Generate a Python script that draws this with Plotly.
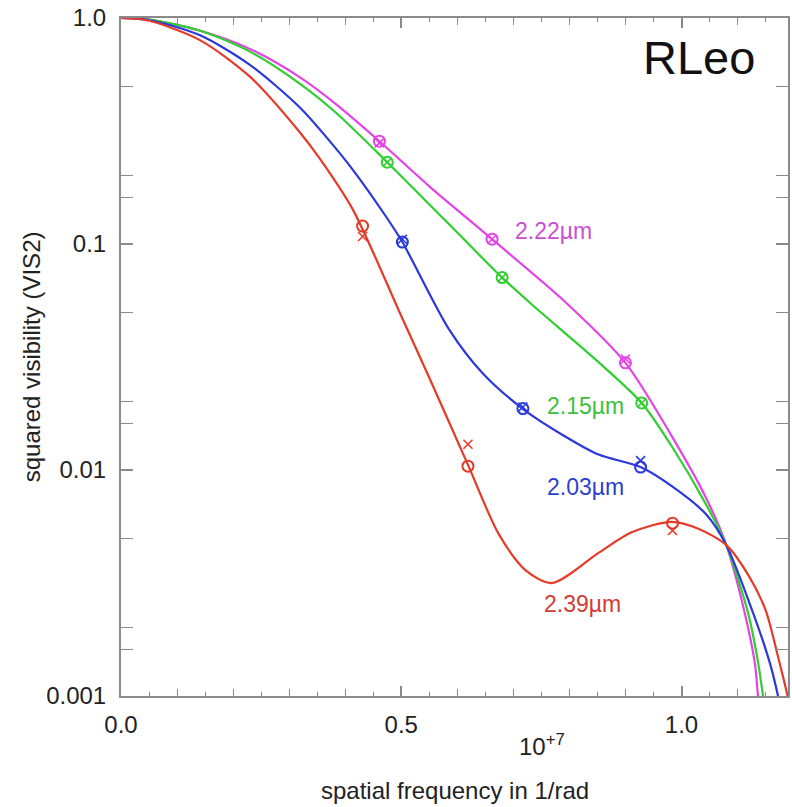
import plotly.graph_objects as go
import numpy as np

# ---------------- data ----------------
# model curves: spatial frequency (x 1e7 1/rad) vs squared visibility
x_222 = [0, 0.05, 0.14, 0.23, 0.32, 0.384, 0.461, 0.55, 0.662, 0.794, 0.900, 0.982, 1.043, 1.08, 1.113, 1.131, 1.137, 1.15]
v_222 = [1.0, 0.985, 0.88, 0.73, 0.545, 0.415, 0.285, 0.18, 0.105, 0.055, 0.0298, 0.0142, 0.0076, 0.00465, 0.00232, 0.00139, 0.00098, 0.0006]

x_215 = [0, 0.05, 0.14, 0.23, 0.32, 0.384, 0.475, 0.58, 0.68, 0.733, 0.852, 0.929, 0.982, 1.043, 1.08, 1.119, 1.137, 1.146, 1.16]
v_215 = [1.0, 0.983, 0.88, 0.71, 0.51, 0.38, 0.23, 0.126, 0.071, 0.054, 0.030, 0.0198, 0.0128, 0.0071, 0.00465, 0.00232, 0.00139, 0.00098, 0.0006]

x_203 = [0, 0.05, 0.14, 0.23, 0.32, 0.372, 0.413, 0.473, 0.502, 0.585, 0.644, 0.715, 0.794, 0.852, 0.927, 0.982, 1.043, 1.08, 1.128, 1.158, 1.173, 1.19]
v_203 = [1.0, 0.978, 0.84, 0.62, 0.40, 0.286, 0.214, 0.132, 0.102, 0.042, 0.027, 0.0188, 0.0140, 0.0117, 0.0103, 0.0085, 0.0064, 0.00465, 0.00232, 0.00139, 0.00098, 0.0006]

x_239 = [0, 0.05, 0.14, 0.23, 0.32, 0.354, 0.413, 0.5, 0.55, 0.62, 0.674, 0.722, 0.769, 0.852, 0.911, 0.982, 1.03, 1.08, 1.12, 1.15, 1.172, 1.19, 1.2]
v_239 = [1.0, 0.972, 0.80, 0.55, 0.31, 0.24, 0.143, 0.048, 0.0256, 0.0104, 0.0052, 0.0036, 0.00316, 0.0043, 0.0053, 0.0059, 0.0055, 0.00465, 0.0034, 0.0024, 0.0015, 0.00098, 0.0007]

# measured data points (circles) and second set (crosses)
px_222 = [0.461, 0.662, 0.900]; pc_222 = [0.285, 0.105, 0.0298]; px2_222 = [0.28, 0.105, 0.031]
px_215 = [0.475, 0.680, 0.929]; pc_215 = [0.23, 0.071, 0.0198]; px2_215 = [0.23, 0.071, 0.0198]
px_203 = [0.502, 0.717, 0.927]; pc_203 = [0.102, 0.0187, 0.0103]; px2_203 = [0.105, 0.019, 0.011]
px_239 = [0.431, 0.619, 0.984]; pc_239 = [0.12, 0.0104, 0.00582]; px2_239 = [0.108, 0.013, 0.0054]

labels = ["2.22µm", "2.15µm", "2.03µm", "2.39µm"]
label_x = [0.772, 0.829, 0.829, 0.824]
label_y = [0.1136, 0.0192, 0.0084, 0.00255]

x_ticks = [0.0, 0.5, 1.0]
x_ticktext = ["0.0", "0.5", "1.0"]
x_mid_ticks = [0.1, 0.2, 0.3, 0.4, 0.6, 0.7, 0.8, 0.9, 1.1]
y_ticks = [1.0, 0.1, 0.01, 0.001]
y_ticktext = ["1.0", "0.1", "0.01", "0.001"]
y_minor = [0.5, 0.2, 0.16, 0.05, 0.02, 0.016, 0.005, 0.002, 0.0016]

# ---------------- styling ----------------
colors = ["#e444e4", "#2fcf2f", "#2a38dc", "#e63a28"]
label_colors = ["#c850d0", "#3cbf3c", "#2e3fc8", "#d23c34"]
FONT = "Liberation Sans, Arial, Helvetica, sans-serif"
axis_col = "#8a8a8a"

fig = go.Figure()
series = [
    (x_222, v_222, px_222, pc_222, px2_222),
    (x_215, v_215, px_215, pc_215, px2_215),
    (x_203, v_203, px_203, pc_203, px2_203),
    (x_239, v_239, px_239, pc_239, px2_239),
]
for (xs, vs, pxs, pcs, pcs2), c in zip(series, colors):
    fig.add_trace(go.Scatter(x=xs, y=vs, mode="lines",
                             line=dict(color=c, width=2.2, shape="spline", smoothing=0.8),
                             showlegend=False, hoverinfo="skip"))
    fig.add_trace(go.Scatter(x=pxs, y=pcs, mode="markers",
                             marker=dict(symbol="circle-open", size=11, color=c,
                                         line=dict(color=c, width=2)),
                             showlegend=False, cliponaxis=False))
    fig.add_trace(go.Scatter(x=pxs, y=pcs2, mode="markers",
                             marker=dict(symbol="x-thin-open", size=9, color=c,
                                         line=dict(color=c, width=1.6)),
                             showlegend=False, cliponaxis=False))

# empty trace on an overlay axis that carries the medium-length 0.1 ticks
fig.add_trace(go.Scatter(x=[None], y=[None], xaxis="x2", yaxis="y",
                         showlegend=False, hoverinfo="skip"))

for t, lx, ly, lc in zip(labels, label_x, label_y, label_colors):
    fig.add_annotation(x=lx, y=np.log10(ly), xref="x", yref="y", text=t,
                       showarrow=False, font=dict(family=FONT, size=23, color=lc),
                       xanchor="center", yanchor="middle")

fig.add_annotation(x=0.867, y=0.942, xref="paper", yref="paper", text="RLeo",
                   showarrow=False, font=dict(family=FONT, size=47, color="#111"),
                   xanchor="center", yanchor="middle")
fig.add_annotation(x=0.593, y=-0.098, xref="paper", yref="paper", text="10<sup>+7</sup>",
                   showarrow=False, font=dict(family=FONT, size=24, color="#222"),
                   xanchor="left", yanchor="bottom")
fig.add_annotation(x=0.5, y=-0.139, xref="paper", yref="paper", text="spatial frequency in 1/rad",
                   showarrow=False, font=dict(family=FONT, size=24, color="#222"),
                   xanchor="center", yanchor="middle")
fig.add_annotation(x=-0.1345, y=0.5, xref="paper", yref="paper", text="squared visibility (VIS2)",
                   showarrow=False, textangle=-90, font=dict(family=FONT, size=24, color="#222"),
                   xanchor="center", yanchor="middle")

fig.update_layout(
    width=792, height=807,
    margin=dict(l=121, r=2, t=18, b=111),
    paper_bgcolor="white", plot_bgcolor="white",
    font=dict(family=FONT, size=24, color="#222"),
    xaxis=dict(range=[0, 1.19], tickmode="array", tickvals=x_ticks, ticktext=x_ticktext,
               ticks="inside", ticklen=10, tickwidth=1.5, tickcolor=axis_col,
               showline=True, linecolor=axis_col, linewidth=2, mirror="allticks",
               showgrid=False, zeroline=False, ticklabelstandoff=6,
               tickfont=dict(family=FONT, size=24, color="#222"),
               minor=dict(ticks="inside", dtick=0.05, tick0=0, ticklen=4,
                          tickwidth=1.2, tickcolor=axis_col, showgrid=False)),
    xaxis2=dict(range=[0, 1.19], overlaying="x", anchor="y", side="bottom",
                tickmode="array", tickvals=x_mid_ticks, showticklabels=False,
                ticks="inside", ticklen=7, tickwidth=1.2, tickcolor=axis_col,
                showline=False, mirror="ticks", showgrid=False, zeroline=False),
    yaxis=dict(type="log", range=[-3, 0], tickmode="array", tickvals=y_ticks, ticktext=y_ticktext,
               ticks="inside", ticklen=12, tickwidth=1.5, tickcolor=axis_col,
               showline=True, linecolor=axis_col, linewidth=2, mirror="allticks",
               showgrid=False, zeroline=False, ticklabelstandoff=8,
               tickfont=dict(family=FONT, size=24, color="#222"),
               minor=dict(ticks="inside", tickmode="array", tickvals=y_minor, ticklen=7,
                          tickwidth=1.2, tickcolor=axis_col, showgrid=False)),
)

fig.write_html("out.html")
